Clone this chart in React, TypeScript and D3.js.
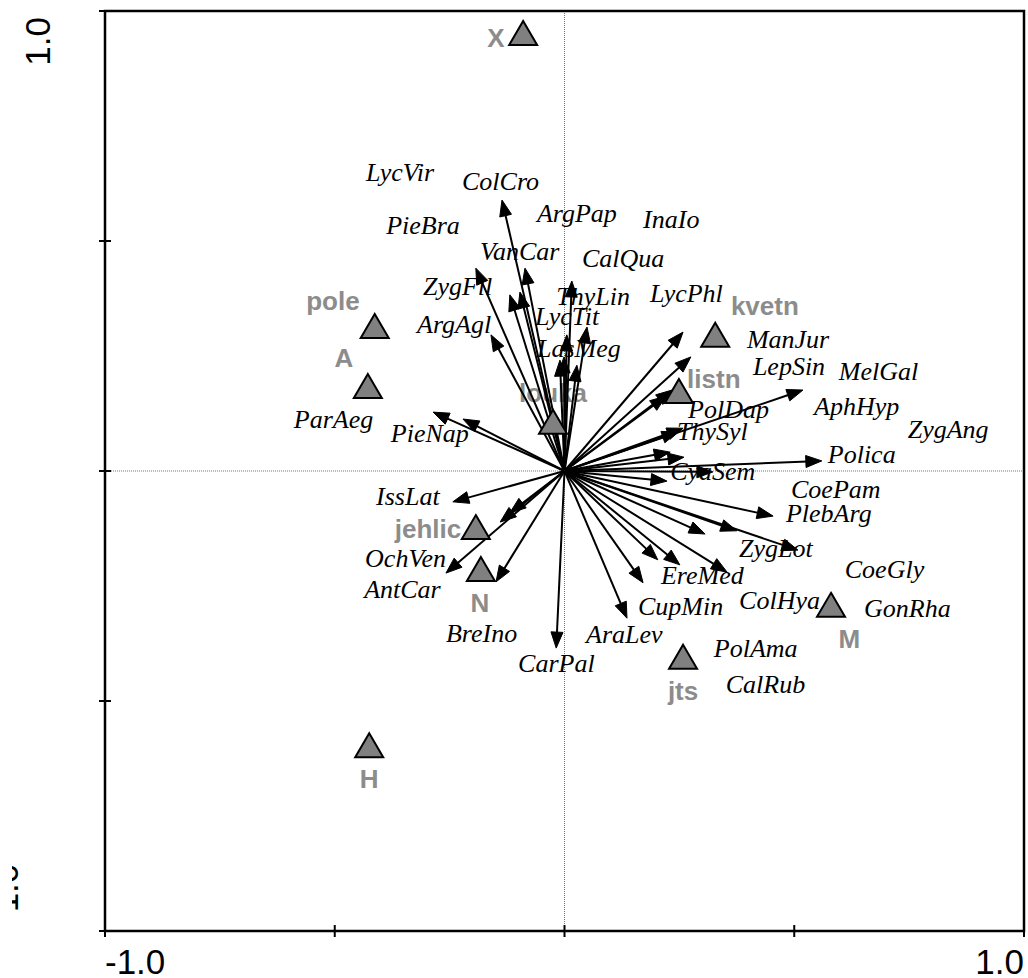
import React from "react";
import * as d3 from "d3";

// ---- data (ordination scores) ----
const speciesNames = [
  "ColCro", "ZygFil", "VanCar", "LycVir", "PieBra", "CalQua", "InaIo", "ThyLin",
  "ArgPap", "LycTit", "LasMeg", "ArgAgl", "ParAeg", "PieNap", "IssLat", "OchVen",
  "", "AntCar", "BreIno", "CarPal", "LycPhl", "ManJur", "LepSin", "PolDap",
  "MelGal", "AphHyp", "ThySyl", "ZygAng", "CalRub", "Polica", "CyaSem", "CoePam",
  "PlebArg", "GonRha", "PolAma", "ZygLot", "CoeGly", "EreMed", "ColHya", "CupMin",
  "AraLev",
];
const speciesX = [
  -0.136, -0.193, -0.086, -0.119, -0.097, 0.016, 0.049, 0.005,
  -0.010, -0.001, 0.027, -0.160, -0.286, -0.221, -0.243, -0.140,
  -0.119, -0.258, -0.149, -0.018, 0.258, 0.275, 0.234, 0.221,
  0.519, 0.258, 0.247, 0.230, 0.260, 0.560, 0.323, 0.223,
  0.454, 0.375, 0.306, 0.508, 0.354, 0.251, 0.203, 0.171,
  0.136,
];
const speciesY = [
  0.589, 0.441, 0.441, 0.383, 0.389, 0.413, 0.313, 0.296,
  0.241, 0.248, 0.230, 0.296, 0.128, 0.113, -0.067, -0.111,
  -0.091, -0.222, -0.241, -0.385, 0.302, 0.248, 0.176, 0.163,
  0.176, 0.093, 0.085, 0.041, 0.030, 0.022, -0.002, -0.022,
  -0.098, -0.130, -0.137, -0.172, -0.220, -0.204, -0.193, -0.243,
  -0.320,
];
// label anchor (left end of text, baseline) in axis units
const labelX = [
  -0.223, -0.308, -0.184, -0.432, -0.388, 0.038, 0.171, -0.018,
  -0.060, -0.064, -0.060, -0.321, -0.589, -0.378, -0.410, -0.434,
  0, -0.436, -0.258, -0.101, 0.186, 0.397, 0.410, 0.269,
  0.597, 0.543, 0.245, 0.747, 0.351, 0.573, 0.230, 0.493,
  0.482, 0.652, 0.325, 0.380, 0.610, 0.210, 0.380, 0.160,
  0.047,
];
const labelY = [
  0.611, 0.383, 0.459, 0.630, 0.515, 0.443, 0.528, 0.361,
  0.541, 0.317, 0.248, 0.300, 0.093, 0.063, -0.074, -0.209,
  0, -0.276, -0.372, -0.437, 0.367, 0.267, 0.209, 0.115,
  0.198, 0.122, 0.067, 0.072, -0.483, 0.017, -0.020, -0.059,
  -0.111, -0.317, -0.404, -0.187, -0.233, -0.246, -0.300, -0.313,
  -0.374,
];

const siteNames = ["X", "pole", "A", "louka", "kvetn", "listn", "jehlic", "N", "jts", "M", "H"];
const siteX = [-0.090, -0.413, -0.428, -0.025, 0.328, 0.249, -0.193, -0.182, 0.258, 0.580, -0.425];
const siteY = [0.952, 0.315, 0.185, 0.107, 0.296, 0.174, -0.122, -0.213, -0.404, -0.291, -0.596];
// site label anchor (centre of text, baseline)
const siteLabelX = [-0.149, -0.504, -0.480, -0.025, 0.436, 0.325, -0.297, -0.184, 0.258, 0.620, -0.425];
const siteLabelY = [0.922, 0.350, 0.226, 0.150, 0.339, 0.180, -0.146, -0.307, -0.498, -0.385, -0.689];

const tickValues = [-1, -0.5, 0, 0.5, 1];
const xTickLabels = ["-1.0", "1.0"];
const yTickLabels = ["1.0", "-1.0"];

const W = 1028;
const H = 978;

export default function App() {
  const xs = d3.scaleLinear().domain([-1, 1]).range([105, 1024]);
  const ys = d3.scaleLinear().domain([-1, 1]).range([931, 11]);
  const ox = xs(0);
  const oy = ys(0);

  const arrows = speciesX.map((vx, i) => {
    const x1 = xs(vx);
    const y1 = ys(speciesY[i]);
    const dx = x1 - ox;
    const dy = y1 - oy;
    const len = Math.sqrt(dx * dx + dy * dy);
    const ux = dx / len;
    const uy = dy / len;
    const hl = 16;
    const hw = 6;
    const bx = x1 - ux * hl;
    const by = y1 - uy * hl;
    const px = -uy;
    const py = ux;
    const head = `M${x1},${y1}L${bx + px * hw},${by + py * hw}L${bx - px * hw},${by - py * hw}Z`;
    return { bx: x1 - ux * (hl - 2), by: y1 - uy * (hl - 2), head };
  });

  const tri = (cx: number, cy: number) =>
    `M${cx},${cy - 12}L${cx + 14},${cy + 12}L${cx - 14},${cy + 12}Z`;

  const sans = "'Liberation Sans', Arial, sans-serif";
  const serif = "'Liberation Serif', 'Times New Roman', serif";

  return (
    <svg
      width={W}
      height={H}
      style={{ position: "absolute", left: 0, top: 0, background: "#fff" }}
    >
      <defs>
        <clipPath id="ylabclip">
          <rect x={12} y={0} width={200} height={H} />
        </clipPath>
      </defs>
      <rect x={0} y={0} width={W} height={H} fill="#fff" />

      {/* zero lines */}
      <line x1={ox} x2={ox} y1={ys(1)} y2={ys(-1)} stroke="#777" strokeWidth={1} strokeDasharray="1,1" />
      <line x1={xs(-1)} x2={xs(1)} y1={oy} y2={oy} stroke="#777" strokeWidth={1} strokeDasharray="1,1" />

      {/* species labels */}
      {speciesNames.map((n, i) => (
        <text
          key={"sl" + i}
          x={xs(labelX[i])}
          y={ys(labelY[i])}
          fontFamily={serif}
          fontStyle="italic"
          fontSize={26}
          fill="#000"
        >
          {n}
        </text>
      ))}

      {/* site labels */}
      {siteNames.map((n, i) => (
        <text
          key={"stl" + i}
          x={xs(siteLabelX[i])}
          y={ys(siteLabelY[i])}
          textAnchor="middle"
          fontFamily={sans}
          fontWeight="bold"
          fontSize={26}
          fill="#8c8c8c"
        >
          {n}
        </text>
      ))}

      {/* arrows */}
      {arrows.map((a, i) => (
        <g key={"ar" + i}>
          <line x1={ox} y1={oy} x2={a.bx} y2={a.by} stroke="#000" strokeWidth={2} />
          <path d={a.head} fill="#000" stroke="#000" strokeWidth={1} strokeLinejoin="miter" />
        </g>
      ))}

      {/* sites */}
      {siteNames.map((n, i) => (
        <path
          key={"st" + i}
          d={tri(xs(siteX[i]), ys(siteY[i]))}
          fill="#808080"
          stroke="#000"
          strokeWidth={2}
          strokeLinejoin="miter"
        />
      ))}

      {/* frame */}
      <rect
        x={xs(-1)}
        y={ys(1)}
        width={xs(1) - xs(-1)}
        height={ys(-1) - ys(1)}
        fill="none"
        stroke="#000"
        strokeWidth={2.5}
      />
      {tickValues.map((t, i) => (
        <g key={"t" + i}>
          <line x1={xs(t)} x2={xs(t)} y1={ys(-1) - 6} y2={ys(-1) + 6} stroke="#000" strokeWidth={2} />
          <line x1={xs(-1) - 6} x2={xs(-1) + 6} y1={ys(t)} y2={ys(t)} stroke="#000" strokeWidth={2} />
        </g>
      ))}

      {/* tick labels */}
      <text x={xs(-1)} y={974} fontFamily={sans} fontSize={35} textAnchor="start" fill="#000">
        {xTickLabels[0]}
      </text>
      <text x={xs(1)} y={974} fontFamily={sans} fontSize={35} textAnchor="end" fill="#000">
        {xTickLabels[1]}
      </text>
      <text
        transform={`translate(50,${ys(1) + 6}) rotate(-90)`}
        fontFamily={sans}
        fontSize={35}
        textAnchor="end"
        fill="#000"
      >
        {yTickLabels[0]}
      </text>
      <g clipPath="url(#ylabclip)">
        <text
          transform={`translate(18,${ys(-1) - 7}) rotate(-90)`}
          fontFamily={sans}
          fontSize={35}
          textAnchor="start"
          fill="#000"
        >
          {yTickLabels[1]}
        </text>
      </g>
    </svg>
  );
}
